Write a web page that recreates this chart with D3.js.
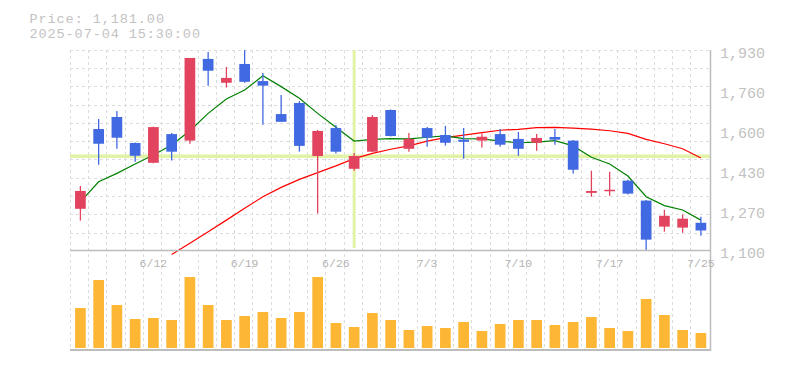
<!DOCTYPE html>
<html><head><meta charset="utf-8">
<script src="https://cdn.jsdelivr.net/npm/d3@7"></script>
<style>body{margin:0;background:#fff;} svg{display:block;}</style>
</head><body><svg id="c" width="785" height="370"></svg>
<script>
const dates = ["6/6","6/9","6/10","6/11","6/12","6/13","6/16","6/17","6/18","6/19","6/20","6/23","6/24","6/25","6/26","6/27","6/30","7/1","7/2","7/3","7/4","7/7","7/8","7/9","7/10","7/11","7/14","7/15","7/16","7/17","7/18","7/22","7/23","7/24","7/25"];
const openP  = [1271,1602,1652,1544,1462,1581,1554,1893,1794,1872,1801,1664,1710,1490,1606,1437,1508,1681,1520,1606,1577,1558,1554,1581,1561,1545,1569,1554,1337,1345,1388,1305,1197,1193,1213];
const highP  = [1366,1644,1677,1546,1612,1586,1897,1922,1860,1930,1835,1743,1718,1598,1619,1503,1660,1683,1586,1610,1615,1606,1583,1602,1590,1581,1602,1556,1429,1425,1392,1307,1267,1247,1238];
const lowP   = [1222,1454,1520,1466,1460,1471,1541,1782,1774,1794,1620,1632,1508,1251,1500,1429,1506,1571,1508,1529,1533,1479,1525,1529,1491,1512,1537,1417,1321,1325,1330,1098,1176,1172,1159];
const closeP = [1345,1541,1566,1491,1610,1508,1897,1844,1814,1798,1782,1632,1532,1594,1508,1490,1652,1573,1561,1566,1545,1549,1570,1537,1520,1565,1558,1433,1345,1350,1334,1143,1242,1230,1181];
const volume = [40,68,43,29,30,28,71,43,28,32,36,30,36,71,25,21,35,28,18,22,20,26,17,24,28,28,23,26,31,20,17,49,33,18,15];
const ma5  = [1300,1383,1418,1457,1494,1536,1595,1667,1727,1764,1823,1778,1730,1667,1609,1552,1559,1562,1561,1568,1574,1562,1561,1552,1545,1548,1554,1532,1485,1457,1407,1321,1284,1266,1224];
const ma25 = [null,null,null,null,null,1081,1128,1176,1224,1273,1321,1360,1393,1421,1449,1479,1501,1518,1532,1552,1566,1577,1587,1597,1601,1608,1609,1606,1602,1595,1584,1559,1541,1520,1482];
const yTickValues = [1100,1266,1432,1598,1764,1930];
const yTickLabels = ["1,100","1,270","1,430","1,600","1,760","1,930"];
const xTickLabels = ["6/12","6/19","6/26","7/3","7/10","7/17","7/25"];
const headerLines = ["Price: 1,181.00","2025-07-04 15:30:00"];
const crossIndex = 15, crossPrice = 1489;

const n = dates.length, step = 18.25;
const svg = d3.select("#c");
const FONT = "'Liberation Mono', 'DejaVu Sans Mono', monospace";
const x = d3.scaleLinear().domain([0, n-1]).range([80.4, 80.4 + (n-1)*step]);
const y = d3.scaleLinear().domain([1100, 1930]).range([250, 50]);
const yv = d3.scaleLinear().domain([0, 100]).range([348, 248]);
const L = 70, R = 710.5, T = 50, B = 250, VB = 348;

// grid
const g = svg.append("g").attr("stroke","#dcdcdc").attr("stroke-dasharray","3,3").attr("stroke-width",1);
d3.range(0, n).forEach(k => {
  const gx = Math.round(x(k-0.5) - 1.3) + 0.5;
  g.append("line").attr("x1",gx).attr("x2",gx).attr("y1",T).attr("y2",VB+1);
});
d3.range(0, 11).forEach(k => {
  const gy = Math.round(y(1930 - k*step*830/200)) + 0.5;
  g.append("line").attr("x1",L).attr("x2",R).attr("y1",gy).attr("y2",gy);
});

// crosshair
svg.append("line").attr("x1",L).attr("x2",R).attr("y1",y(crossPrice)).attr("y2",y(crossPrice))
  .attr("stroke","#e2f2a6").attr("stroke-width",3.5);
svg.append("line").attr("x1",x(crossIndex)).attr("x2",x(crossIndex)).attr("y1",T).attr("y2",B-2)
  .attr("stroke","#e2f2a6").attr("stroke-width",3);

// moving averages
const line = d3.line().defined(d => d != null).x((d,i) => x(i)).y(d => y(d));
svg.append("path").datum(ma25).attr("d", line).attr("fill","none").attr("stroke","#ff0000").attr("stroke-width",1.2);
svg.append("path").datum(ma5).attr("d", line).attr("fill","none").attr("stroke","#008000").attr("stroke-width",1.2);

// candles
const UP = "#e2435f", DOWN = "#4169e1", bw = 10.7;
const cg = svg.append("g");
dates.forEach((d,i) => {
  const o = openP[i], c = closeP[i], col = c >= o ? UP : DOWN;
  cg.append("line").attr("x1",x(i)).attr("x2",x(i)).attr("y1",y(highP[i])).attr("y2",y(lowP[i]))
    .attr("stroke",col).attr("stroke-width",1.3);
  const top = y(Math.max(o,c)), bot = y(Math.min(o,c));
  cg.append("rect").attr("x",x(i)-bw/2).attr("width",bw).attr("y",top).attr("height",Math.max(1.5, bot-top)).attr("fill",col);
});

// volume
svg.append("g").selectAll("rect").data(volume).join("rect")
  .attr("x",(d,i)=>x(i)-bw/2).attr("width",bw).attr("y",d=>yv(d)).attr("height",d=>VB-yv(d)).attr("fill","#fdb734");

// axes / frame
svg.append("line").attr("x1",L).attr("x2",R).attr("y1",B+0.5).attr("y2",B+0.5).attr("stroke","#bdbdbd").attr("stroke-width",1.5);
svg.append("line").attr("x1",L).attr("x2",R).attr("y1",VB+2).attr("y2",VB+2).attr("stroke","#bdbdbd").attr("stroke-width",2);
svg.append("line").attr("x1",R).attr("x2",R).attr("y1",T).attr("y2",VB+3).attr("stroke","#bdbdbd").attr("stroke-width",1.5);

// y labels
svg.append("g").selectAll("text").data(yTickValues).join("text")
  .attr("x",720).attr("y",d=>y(d)+8).text((d,i)=>yTickLabels[i])
  .attr("font-family",FONT).attr("font-size",15).attr("fill","#c2c2c2");

// x labels
xTickLabels.forEach((t,k) => {
  const i = dates.indexOf(t);
  svg.append("text").attr("x",x(i)).attr("y",266.5).attr("text-anchor","middle").text(t)
    .attr("font-family",FONT).attr("font-size",11.5).attr("fill","#b4b4b4");
});

// header
headerLines.forEach((t,k) => {
  svg.append("text").attr("x",29.5).attr("y",22.5 + k*15.5).text(t)
    .attr("textLength", t.length*9 - 0.5).attr("lengthAdjust","spacing")
    .attr("font-family",FONT).attr("font-size",13.5).attr("fill","#c2c2c2");
});
</script></body></html>
